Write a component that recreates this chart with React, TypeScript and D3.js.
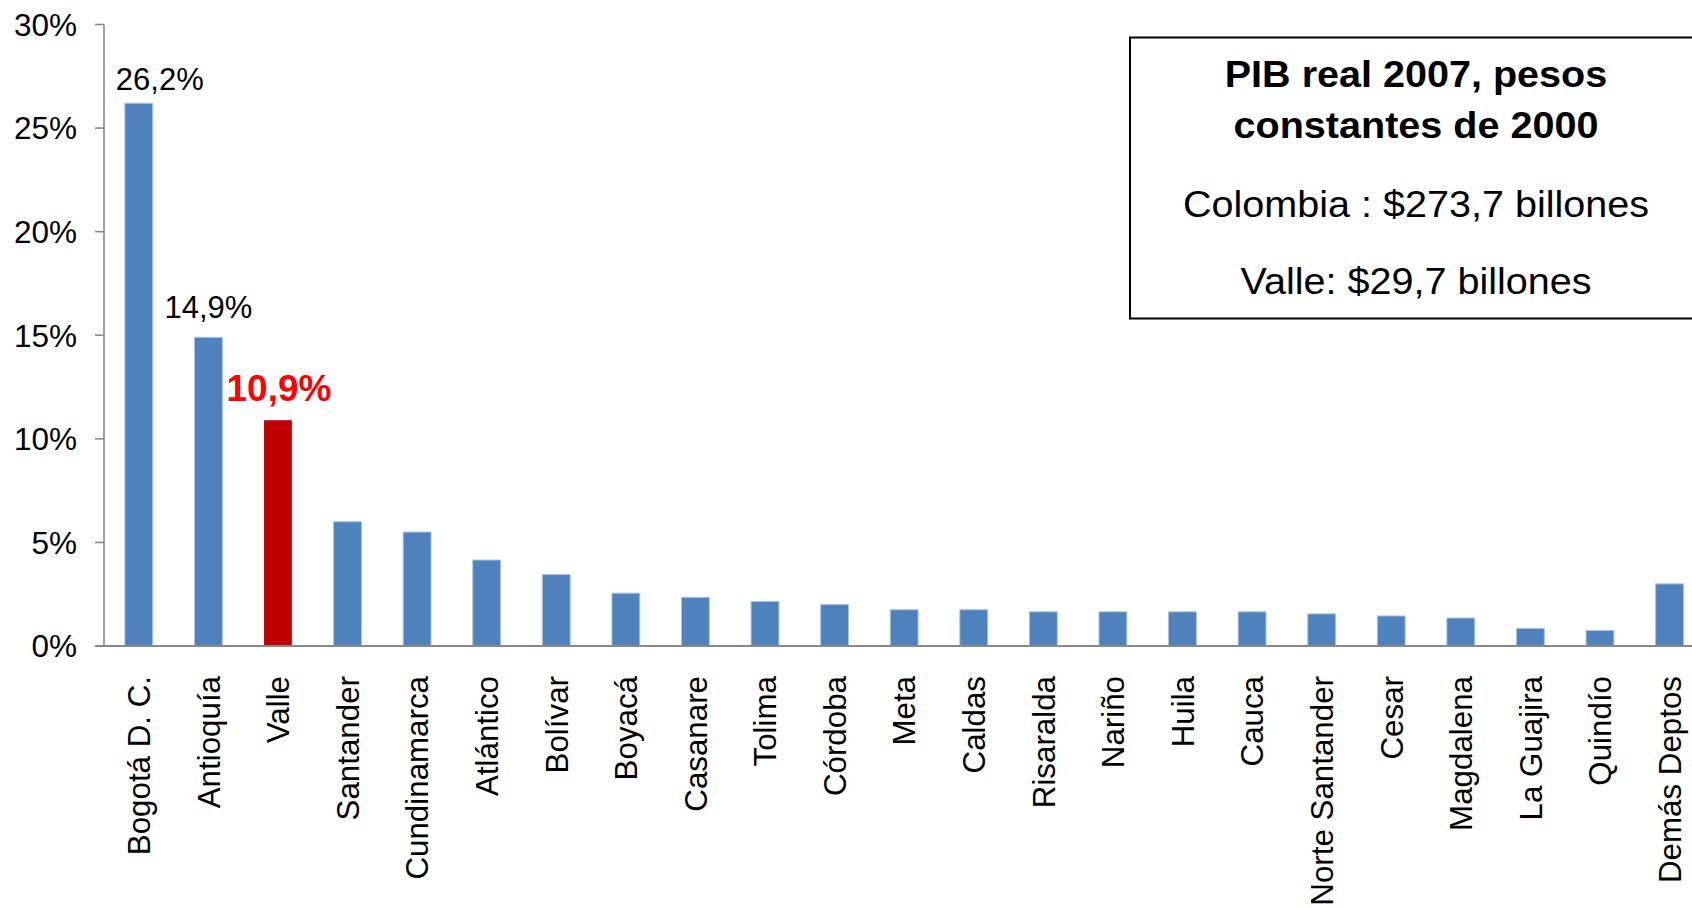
import React from 'react';
import * as d3 from 'd3';

const categories = [
  'Bogotá D. C.', 'Antioquía', 'Valle', 'Santander', 'Cundinamarca', 'Atlántico',
  'Bolívar', 'Boyacá', 'Casanare', 'Tolima', 'Córdoba', 'Meta', 'Caldas',
  'Risaralda', 'Nariño', 'Huila', 'Cauca', 'Norte Santander', 'Cesar',
  'Magdalena', 'La Guajira', 'Quindío', 'Demás Deptos',
];
const shares = [
  26.2, 14.9, 10.9, 6.0, 5.5, 4.15, 3.45, 2.55, 2.35, 2.15, 2.0, 1.75, 1.75,
  1.65, 1.65, 1.65, 1.65, 1.55, 1.45, 1.35, 0.85, 0.75, 3.0,
];
const highlighted = 'Valle';
const yTicks = [0, 5, 10, 15, 20, 25, 30];
const valueLabels = [
  { cat: 'Bogotá D. C.', text: '26,2%' },
  { cat: 'Antioquía', text: '14,9%' },
  { cat: 'Valle', text: '10,9%' },
];
const boxTitle = ['PIB real 2007, pesos', 'constantes de 2000'];
const boxLines = ['Colombia : $273,7 billones', 'Valle: $29,7 billones'];

const W = 1692;
const H = 908;
const FONT = '"Liberation Sans", Arial, Helvetica, sans-serif';

export default function App() {
  const left = 104;
  const step = 69.58;
  const x = d3
    .scaleBand<string>()
    .domain(categories)
    .range([left, left + step * categories.length])
    .paddingInner(0.6)
    .paddingOuter(0.3);
  const y = d3.scaleLinear().domain([0, 30]).range([646, 24.5]);
  const bw = x.bandwidth();

  const labelOffsets: Record<string, { dx: number; dy: number }> = {
    'Bogotá D. C.': { dx: 21, dy: -13 },
    'Antioquía': { dx: 0, dy: -19 },
    'Valle': { dx: 1, dy: -19.5 },
  };

  const boxX = 1130;
  const boxY = 37.5;
  const boxH = 281;
  const boxCx = 1416;
  const boxFont = 37.5;
  const boxStretch = 1.055;

  return (
    <svg
      width={W}
      height={H}
      viewBox={`0 0 ${W} ${H}`}
      style={{ position: 'absolute', left: 0, top: 0, background: '#fff' }}
      fontFamily={FONT}
    >
      <rect x={0} y={0} width={W} height={H} fill="#fff" />
      {/* bars */}
      {categories.map((c, i) => {
        const v = shares[i];
        const isHi = c === highlighted;
        return (
          <rect
            key={c}
            x={x(c)!}
            y={y(v)}
            width={bw}
            height={y(0) - y(v)}
            fill={isHi ? '#C00000' : '#4F81BD'}
            stroke={isHi ? 'none' : '#A9C2E2'}
            strokeWidth={1}
          />
        );
      })}
      {/* y axis */}
      <line x1={left} x2={left} y1={y(30)} y2={y(0)} stroke="#898989" strokeWidth={1.6} />
      {yTicks.map((t) => (
        <g key={t}>
          <line x1={left - 9} x2={left} y1={y(t)} y2={y(t)} stroke="#898989" strokeWidth={1.6} />
          <text
            x={77}
            y={y(t)}
            dy="0.36em"
            textAnchor="end"
            fontSize={31.5}
            fill="#000"
          >
            {`${t}%`}
          </text>
        </g>
      ))}
      {/* x axis */}
      <line x1={left - 9} x2={W} y1={y(0)} y2={y(0)} stroke="#898989" strokeWidth={1.8} />
      {categories.map((c) => {
        const cx = x(c)! + bw / 2;
        return (
          <text
            key={c}
            transform={`translate(${cx},676) rotate(-90)`}
            dy="0.36em"
            textAnchor="end"
            fontSize={31.3}
            fill="#000"
          >
            {c}
          </text>
        );
      })}
      {/* value labels */}
      {valueLabels.map((l) => {
        const i = categories.indexOf(l.cat);
        const cx = x(l.cat)! + bw / 2;
        const off = labelOffsets[l.cat];
        const isHi = l.cat === highlighted;
        return (
          <text
            key={l.cat}
            x={cx + off.dx}
            y={y(shares[i]) + off.dy}
            textAnchor="middle"
            fontSize={isHi ? 37 : 31}
            fontWeight={isHi ? 'bold' : 'normal'}
            fill={isHi ? '#FF0000' : '#000'}
          >
            {l.text}
          </text>
        );
      })}
      {/* info box */}
      <rect x={boxX} y={boxY} width={W - boxX + 20} height={boxH} fill="#fff" stroke="#000" strokeWidth={2} />
      {boxTitle.map((t, i) => (
        <text
          key={t}
          transform={`translate(${boxCx},${[87, 138][i]}) scale(${boxStretch},1)`}
          textAnchor="middle"
          fontSize={boxFont}
          fontWeight="bold"
          fill="#000"
        >
          {t}
        </text>
      ))}
      {boxLines.map((t, i) => (
        <text
          key={t}
          transform={`translate(${boxCx},${[217, 294][i]}) scale(${boxStretch},1)`}
          textAnchor="middle"
          fontSize={boxFont}
          fill="#000"
        >
          {t}
        </text>
      ))}
    </svg>
  );
}
